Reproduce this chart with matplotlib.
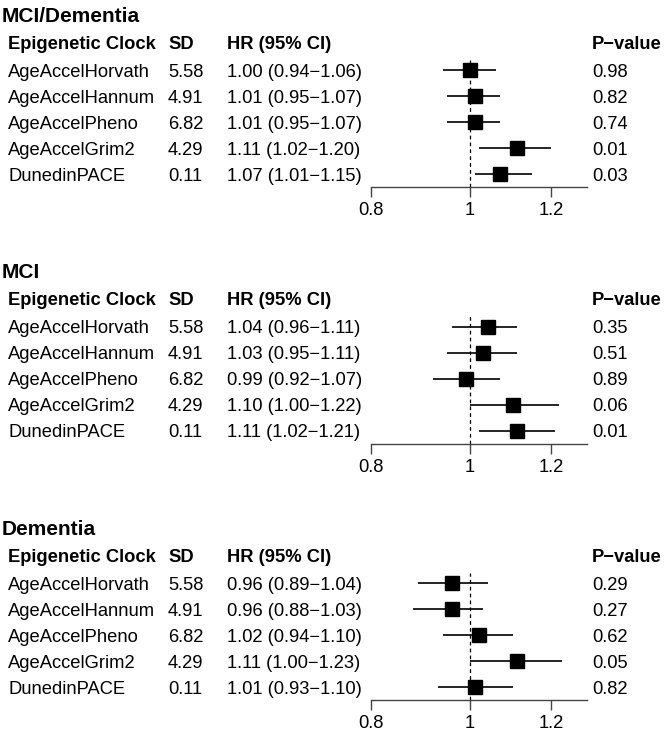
import numpy as np
import matplotlib
matplotlib.use("Agg")
import matplotlib.pyplot as plt
import matplotlib.transforms as mtransforms

plt.rcParams['font.family'] = ['Liberation Sans', 'DejaVu Sans']

clocks = ["AgeAccelHorvath", "AgeAccelHannum", "AgeAccelPheno", "AgeAccelGrim2", "DunedinPACE"]
sd = [5.58, 4.91, 6.82, 4.29, 0.11]

titles = ["MCI/Dementia", "MCI", "Dementia"]

hr_all = [1.00, 1.01, 1.01, 1.11, 1.07]
lo_all = [0.94, 0.95, 0.95, 1.02, 1.01]
hi_all = [1.06, 1.07, 1.07, 1.20, 1.15]
p_all = [0.98, 0.82, 0.74, 0.01, 0.03]

hr_mci = [1.04, 1.03, 0.99, 1.10, 1.11]
lo_mci = [0.96, 0.95, 0.92, 1.00, 1.02]
hi_mci = [1.11, 1.11, 1.07, 1.22, 1.21]
p_mci = [0.35, 0.51, 0.89, 0.06, 0.01]

hr_dem = [0.96, 0.96, 1.02, 1.11, 1.01]
lo_dem = [0.89, 0.88, 0.94, 1.00, 0.93]
hi_dem = [1.04, 1.03, 1.10, 1.23, 1.10]
p_dem = [0.29, 0.27, 0.62, 0.05, 0.82]

panels = [(hr_all, lo_all, hi_all, p_all),
          (hr_mci, lo_mci, hi_mci, p_mci),
          (hr_dem, lo_dem, hi_dem, p_dem)]

W, H = 664, 736
fig = plt.figure(figsize=(W/100, H/100), dpi=100)

fs = 13.2
minus = "\u2212"

for k in range(3):
    hr, lo, hi, pv = panels[k]
    off = 256.5*k
    ax = fig.add_axes([370.7/W, 1-(187+off)/H, (587-370.7)/W, 130/H])
    ax.set_xscale('log')
    ax.set_xlim(0.8, 1.3)
    ax.set_ylim(4.5, -0.5)
    y = np.arange(len(clocks))
    ax.hlines(y, lo, hi, color='black', lw=1.2)
    ax.plot(hr, y, 's', color='black', ms=9.8, zorder=3)
    ax.axvline(1, ymin=0, ymax=0.98, color='black', lw=0.9, ls=(0, (3, 2.5)), zorder=1)
    for s in ['top', 'right', 'left']:
        ax.spines[s].set_visible(False)
    ax.spines['bottom'].set_color('#444444')
    ax.spines['bottom'].set_linewidth(1.0)
    ax.set_yticks([])
    ax.set_xticks([0.8, 1, 1.2])
    ax.set_xticklabels(["0.8", "1", "1.2"])
    ax.minorticks_off()
    ax.xaxis.set_minor_locator(matplotlib.ticker.NullLocator())
    ax.tick_params(axis='x', direction='out', length=7, width=1.0, color='#444444',
                   labelsize=fs, pad=4)

    tr = mtransforms.blended_transform_factory(fig.transFigure, ax.transData)
    tr_row = mtransforms.offset_copy(tr, fig=fig, y=-6.6, units='dots')

    ax.text(2/W, -2.115, titles[k], transform=tr_row, fontsize=15, fontweight='bold',
            va='baseline', ha='left')
    ax.text(8/W, -1.077, "Epigenetic Clock", transform=tr_row, fontsize=fs,
            fontweight='bold', va='baseline')
    ax.text(168/W, -1.077, "SD", transform=tr_row, fontsize=fs, fontweight='bold', va='baseline')
    ax.text(227/W, -1.077, "HR (95% CI)", transform=tr_row, fontsize=fs, fontweight='bold', va='baseline')
    ax.text(592/W, -1.077, "P" + minus + "value", transform=tr_row, fontsize=fs,
            fontweight='bold', va='baseline')
    for i in range(len(clocks)):
        ax.text(8/W, i, clocks[i], transform=tr_row, fontsize=fs, va='baseline')
        ax.text(168/W, i, f"{sd[i]:.2f}", transform=tr_row, fontsize=fs, va='baseline')
        ax.text(227/W, i, f"{hr[i]:.2f} ({lo[i]:.2f}{minus}{hi[i]:.2f})", transform=tr_row,
                fontsize=fs, va='baseline')
        ax.text(592/W, i, f"{pv[i]:.2f}", transform=tr_row, fontsize=fs, va='baseline')

fig.savefig("out.png", dpi=100)
